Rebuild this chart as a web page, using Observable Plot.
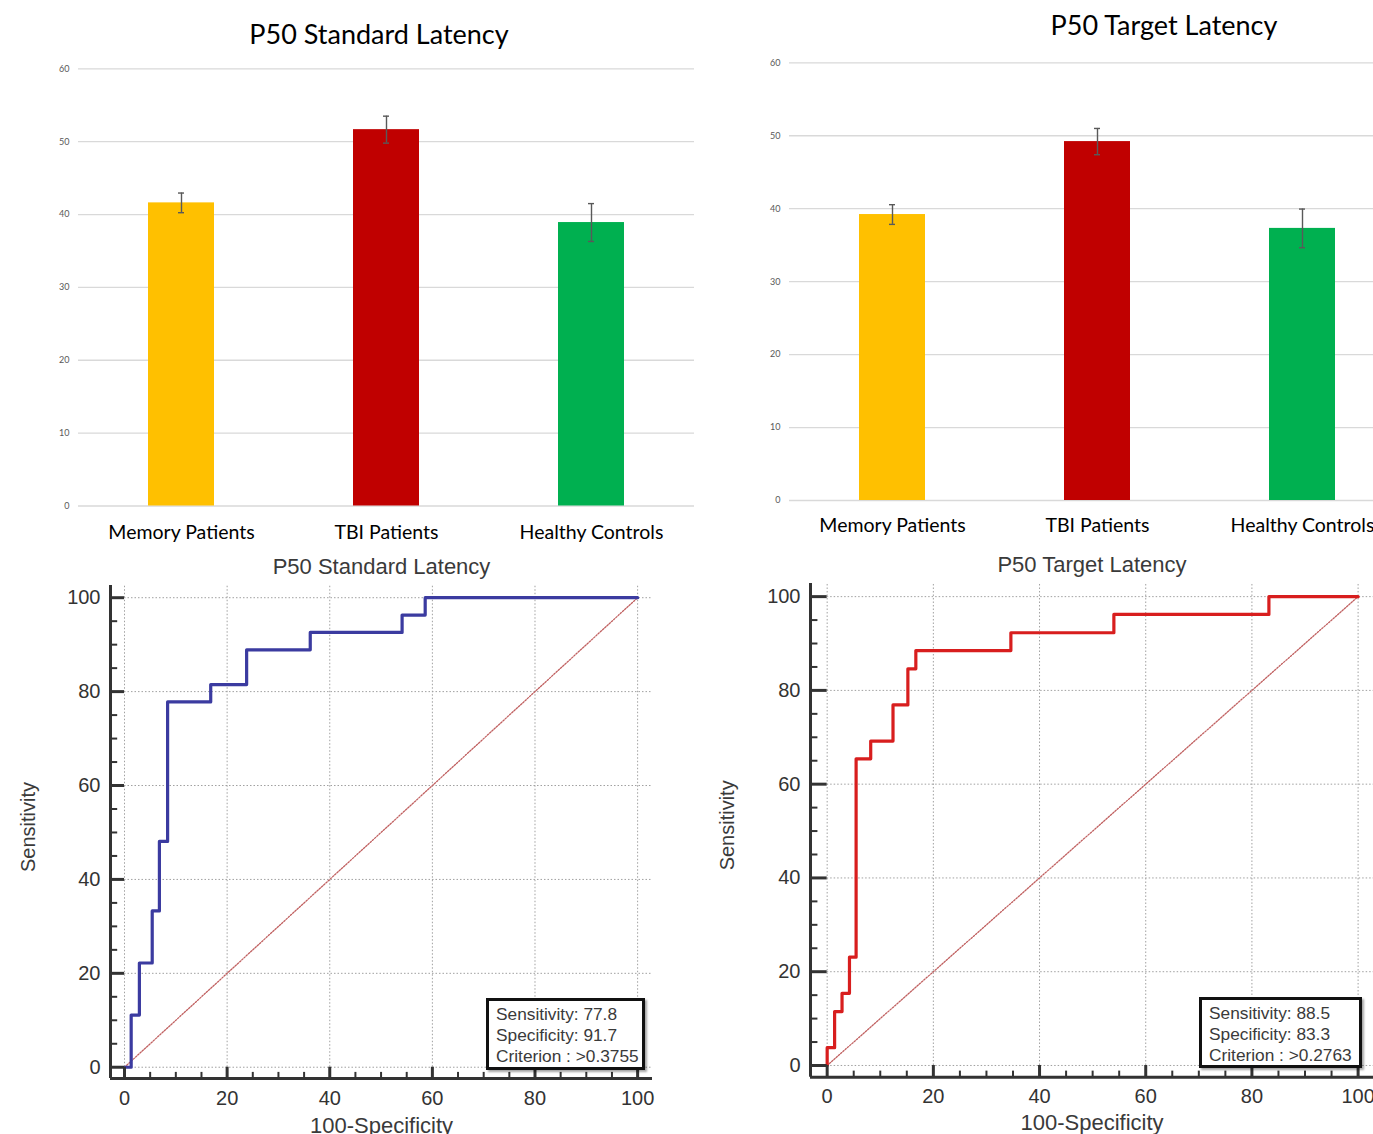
<!DOCTYPE html>
<html><head><meta charset="utf-8">
<script src="https://cdn.jsdelivr.net/npm/d3@7"></script>
<script src="https://cdn.jsdelivr.net/npm/@observablehq/plot@0.6"></script>
<style>
html,body{margin:0;padding:0;background:#fff;overflow:hidden;}
#root{position:relative;width:1373px;height:1134px;overflow:hidden;background:#fff;}
.panel{position:absolute;overflow:hidden;}
.panel svg{max-width:none !important;display:block;}
.title{position:absolute;font-family:Lato,sans-serif;white-space:nowrap;transform:translate(-50%,-50%);color:#000;line-height:1;}
.statbox{position:absolute;border:3px solid #111;background:#fff;box-shadow:2px 2px 2px rgba(0,0,0,.35);font-family:"Liberation Sans",Arial,sans-serif;font-size:17.3px;color:#3a3a3a;line-height:21px;padding:3px 0 0 7px;box-sizing:border-box;white-space:nowrap;}
</style></head><body><div id="root"></div>
<script>
// ---- bar chart data ----
const groups = ["Memory Patients", "TBI Patients", "Healthy Controls"];
const barColors = ["#FFC000", "#C00000", "#00B050"];
const standardMeans = [41.6, 51.65, 38.9];
const standardErrors = [1.35, 1.85, 2.6];
const targetMeans = [39.2, 49.2, 37.3];
const targetErrors = [1.35, 1.8, 2.65];
const barTicks = [0, 10, 20, 30, 40, 50, 60];

// ---- ROC data (100-Specificity, Sensitivity) ----
const rocTicks = [0, 20, 40, 60, 80, 100];
const standardFpr = [0, 1.3, 2.9, 5.4, 6.8, 8.4, 16.8, 23.8, 36.2, 54.1, 58.6, 100];
const standardTpr = [0, 11.1, 22.2, 33.3, 48.1, 77.8, 81.5, 88.9, 92.6, 96.3, 100, 100];
const targetFpr = [0, 0, 1.4, 2.8, 4.2, 5.45, 8.2, 12.4, 15.2, 16.7, 34.6, 54.0, 83.2, 100];
const targetTpr = [0, 3.8, 11.5, 15.4, 23.1, 65.4, 69.2, 76.9, 84.6, 88.5, 92.3, 96.2, 100, 100];
const chanceLine = [0, 100];
const standardStats = ["Sensitivity: 77.8", "Specificity: 91.7", "Criterion : >0.3755"];
const targetStats = ["Sensitivity: 88.5", "Specificity: 83.3", "Criterion : >0.2763"];

const root = document.getElementById("root");

function addPanel(node, left, top, w, h) {
  const div = document.createElement("div");
  div.className = "panel";
  div.style.left = left + "px"; div.style.top = top + "px";
  div.style.width = w + "px"; div.style.height = h + "px";
  div.appendChild(node);
  root.appendChild(div);
}
function addTitle(text, cx, cy, size) {
  const d = document.createElement("div");
  d.className = "title";
  d.textContent = text;
  d.style.left = cx + "px"; d.style.top = cy + "px"; d.style.fontSize = size + "px";
  root.appendChild(d);
}
function addStats(lines, left, top, w, h) {
  const d = document.createElement("div");
  d.className = "statbox";
  d.style.left = left + "px"; d.style.top = top + "px";
  d.style.width = w + "px"; d.style.height = h + "px";
  lines.forEach(t => { const l = document.createElement("div"); l.textContent = t; d.appendChild(l); });
  root.appendChild(d);
}

function barChart(means, errors, o) {
  const data = groups.map((g, i) => ({group: g, mean: means[i], lo: means[i] - errors[i], hi: means[i] + errors[i], color: barColors[i]}));
  const err = {x: "group", stroke: "#595959", strokeWidth: 1.4};
  return Plot.plot({
    width: o.width, height: o.height,
    marginLeft: o.ml, marginRight: o.mr, marginTop: o.mt, marginBottom: o.mb,
    style: {background: "transparent", fontFamily: "Lato, sans-serif"},
    x: {domain: groups, paddingInner: 0.68, paddingOuter: 0.34, label: null},
    y: {domain: [0, 60], label: null},
    marks: [
      Plot.ruleY(barTicks, {stroke: "#d9d9d9", strokeWidth: 1.3}),
      Plot.barY(data, {x: "group", y: "mean", fill: "color"}),
      Plot.ruleX(data, {...err, y1: "lo", y2: "hi"}),
      Plot.tickY(data, {...err, y: "lo", insetLeft: 30, insetRight: 30}),
      Plot.tickY(data, {...err, y: "hi", insetLeft: 30, insetRight: 30}),
      Plot.axisY(barTicks, {tickSize: 0, tickPadding: 9, fontSize: 9, fill: "#595959"}),
      Plot.axisX({tickSize: 0, tickPadding: o.xPad, fontSize: 19.5, fill: "#000"})
    ]
  });
}

function rocChart(fpr, tpr, color, o) {
  const pts = fpr.map((x, i) => ({x, y: tpr[i]}));
  const diag = chanceLine.map(v => ({x: v, y: v}));
  const [x0, x1] = o.xDomain, [y0, y1] = o.yDomain;
  const minor = d3.range(0, 101, 5).filter(v => v % 20 !== 0);
  const grid = {stroke: "#a0a0a0", strokeWidth: 1, strokeDasharray: "1.5,2"};
  const ax = {stroke: "#333"};
  const txt = {fill: "#3a3a3a", fontSize: 20, lineAnchor: "middle", textAnchor: "middle"};
  return Plot.plot({
    width: o.width, height: o.height,
    marginLeft: o.ml, marginRight: o.mr, marginTop: o.mt, marginBottom: o.mb,
    style: {background: "transparent", fontFamily: "'Liberation Sans', Arial, sans-serif"},
    x: {domain: o.xDomain, label: null},
    y: {domain: o.yDomain, label: null},
    marks: [
      Plot.ruleX(rocTicks, {...grid, y1: 0, y2: y1}),
      Plot.ruleY(rocTicks, {...grid, x1: 0, x2: x1}),
      Plot.line(diag, {x: "x", y: "y", stroke: "#c06060", strokeWidth: 1.3, strokeDasharray: "1.5,1.5"}),
      Plot.line(pts, {x: "x", y: "y", curve: "step-after", stroke: color, strokeWidth: 3.2}),
      Plot.ruleY(rocTicks, {...ax, x1: x0, x2: 0, strokeWidth: 3}),
      Plot.ruleX(rocTicks, {...ax, y1: y0, y2: 0, strokeWidth: 3}),
      Plot.ruleY(minor, {...ax, x1: x0, x2: x0 + 1.4, strokeWidth: 2}),
      Plot.ruleX(minor, {...ax, y1: y0, y2: y0 + 1.3, strokeWidth: 2}),
      Plot.ruleX([x0], {...ax, y1: y0, y2: y1, strokeWidth: 3}),
      Plot.ruleY([y0], {...ax, x1: x0, x2: x1, strokeWidth: 3}),
      Plot.axisY(rocTicks, {tickSize: 0, tickPadding: 10, fontSize: 20, fill: "#333"}),
      Plot.axisX(rocTicks, {tickSize: 0, tickPadding: 12, fontSize: 20, fill: "#333"}),
      Plot.text([o.title], {...txt, fontSize: 22, frameAnchor: "top", dy: o.titleDy}),
      Plot.text(["Sensitivity"], {...txt, frameAnchor: "left", dx: o.sensDx, dy: -5, rotate: -90}),
      Plot.text(["100-Specificity"], {...txt, fontSize: 22, frameAnchor: "bottom", dy: o.labelDy})
    ]
  });
}

// top bar charts
addPanel(barChart(standardMeans, standardErrors, {width: 700, height: 545, ml: 78, mr: 6, mt: 68.3, mb: 39.5, xPad: 19}), 0, 0, 700, 545);
addPanel(barChart(targetMeans, targetErrors, {width: 710, height: 540, ml: 89, mr: 5, mt: 62.3, mb: 40, xPad: 18}), 700, 0, 673, 540);
addTitle("P50 Standard Latency", 379, 33, 27);
addTitle("P50 Target Latency", 1164, 24, 27);

// bottom ROC charts
addPanel(rocChart(standardFpr, standardTpr, "#3b3ba0", {
  width: 690, height: 584, ml: 110, mr: 38, mt: 35, mb: 56,
  xDomain: [-2.73, 102.9], yDomain: [-2.4, 102.6], title: "P50 Standard Latency",
  titleDy: -19, sensDx: -82, labelDy: 47
}), 0, 550, 690, 584);
addPanel(rocChart(targetFpr, targetTpr, "#d81e1e", {
  width: 673, height: 584, ml: 110, mr: 0, mt: 33, mb: 57.3,
  xDomain: [-3.14, 102.9], yDomain: [-2.5, 102.8], title: "P50 Target Latency",
  titleDy: -19, sensDx: -83, labelDy: 46
}), 700, 550, 673, 584);

addStats(standardStats, 486, 998, 159, 72);
addStats(targetStats, 1199, 997, 163, 71);
</script></body></html>
